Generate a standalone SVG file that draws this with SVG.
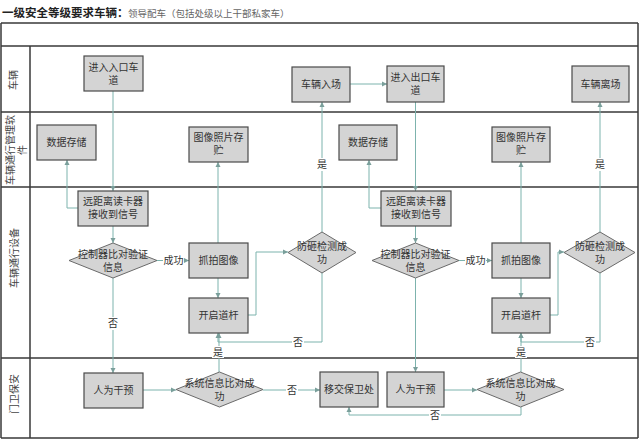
<svg xmlns="http://www.w3.org/2000/svg" width="640" height="440" viewBox="0 0 640 440">
<style>
.lane{stroke:#3a3a3a;stroke-width:1.5;fill:none}
.box{fill:#d4d4d4;stroke:#4a4a4a;stroke-width:1.2}
.dia{fill:#d4d4d4;stroke:#6a6a6a;stroke-width:1}
.t{font-family:"Liberation Serif","Noto Sans CJK SC",serif;font-size:10px;fill:#333;text-anchor:middle}
.lt{font-family:"Liberation Serif","Noto Sans CJK SC",serif;font-size:10px;fill:#444;text-anchor:middle}
.c{stroke:#7db3ad;stroke-width:1;fill:none;marker-end:url(#ah)}
.lb{fill:#fff}
</style>
<defs>
<marker id="ah" markerWidth="6" markerHeight="6" refX="5" refY="3" orient="auto" markerUnits="userSpaceOnUse">
<path d="M0,0.5 L5,3 L0,5.5 Z" fill="#7a9f9b"/>
</marker>
</defs>
<rect width="640" height="440" fill="#fff"/>
<g id="frame">
<text x="2" y="17" font-family="Liberation Serif,'Noto Sans CJK SC',serif" font-size="11.5" font-weight="bold" fill="#222">一级安全等级要求车辆：</text>
<text x="128" y="17" font-family="Liberation Serif,'Noto Sans CJK SC',serif" font-size="9.5" fill="#666">领导配车（包括处级以上干部私家车）</text>
<path class="lane" d="M1,23 H638 M1,46 H638 M1,112 H638 M1,187 H638 M1,358 H638 M1,438 H638 M1,23 V438 M638,23 V438 M30,46 V438"/>
<text class="lt" transform="translate(17,80) rotate(-90)">车辆</text>
<text class="lt" transform="translate(14,150) rotate(-90)">车辆通行管理软</text>
<text class="lt" transform="translate(26,150) rotate(-90)">件</text>
<text class="lt" transform="translate(18,258) rotate(-90)">车辆通行设备</text>
<text class="lt" transform="translate(18,394) rotate(-90)">门卫保安</text>
</g>
<g id="connectors">
<path class="c" d="M113,91 V191"/>
<path class="c" d="M78,208 H67 V160"/>
<path class="c" d="M113,226 V243"/>
<path class="c" d="M157,260.5 H189"/>
<path class="c" d="M113,278 V373"/>
<path class="c" d="M218,243 V162"/>
<path class="c" d="M218,278 V298"/>
<path class="c" d="M248,315 H256 V252 H288"/>
<path class="c" d="M322,232 V102"/>
<path class="c" d="M322,273 V342 H218 V333"/>
<path class="c" d="M219,372 V333"/>
<path class="c" d="M143,390 H176"/>
<path class="c" d="M263,390 H320"/>
<path class="c" d="M350,84 H387"/>
<path class="c" d="M415.5,102 V191"/>
<path class="c" d="M381,208 H369 V160"/>
<path class="c" d="M415.5,226 V243"/>
<path class="c" d="M459,260.5 H492"/>
<path class="c" d="M415.5,278 V372"/>
<path class="c" d="M521,243 V162"/>
<path class="c" d="M521,278 V298"/>
<path class="c" d="M550,315 H558 V252 H564"/>
<path class="c" d="M600,232 V102"/>
<path class="c" d="M600,273 V342 H521 V333"/>
<path class="c" d="M521,372 V333"/>
<path class="c" d="M444,390 H477"/>
<path class="c" d="M521,407 V415 H349 V407"/>
<rect class="lb" x="163" y="254" width="21" height="13"/><text class="t" x="173.5" y="264">成功</text>
<rect class="lb" x="465" y="254" width="21" height="13"/><text class="t" x="475.5" y="264">成功</text>
<rect class="lb" x="107" y="317" width="12" height="13"/><text class="t" x="113" y="327">否</text>
<rect class="lb" x="316" y="158" width="12" height="13"/><text class="t" x="322" y="168">是</text>
<rect class="lb" x="594" y="158" width="12" height="13"/><text class="t" x="600" y="168">是</text>
<rect class="lb" x="292" y="336" width="12" height="13"/><text class="t" x="298" y="346">否</text>
<rect class="lb" x="584" y="336" width="12" height="13"/><text class="t" x="590" y="346">否</text>
<rect class="lb" x="212" y="346" width="12" height="12"/><text class="t" x="218" y="356">是</text>
<rect class="lb" x="515" y="346" width="12" height="12"/><text class="t" x="521" y="356">是</text>
<rect class="lb" x="286" y="384" width="12" height="13"/><text class="t" x="292" y="394">否</text>
<rect class="lb" x="429" y="409" width="12" height="13"/><text class="t" x="435" y="419">否</text>
</g>
<g id="n1"><rect class="box" x="84" y="56" width="59" height="35"/><text class="t" x="113.5" y="71">进入入口车</text><text class="t" x="113.5" y="84">道</text></g>
<g id="n2"><rect class="box" x="37" y="125" width="59" height="35"/><text class="t" x="66.5" y="146">数据存储</text></g>
<g id="n3"><rect class="box" x="189" y="127" width="59" height="35"/><text class="t" x="218.5" y="141">图像照片存</text><text class="t" x="218.5" y="154">贮</text></g>
<g id="n4"><rect class="box" x="292" y="67" width="58" height="35"/><text class="t" x="321" y="88">车辆入场</text></g>
<g id="n5"><rect class="box" x="78" y="191" width="70" height="35"/><text class="t" x="113" y="205">远距离读卡器</text><text class="t" x="113" y="218">接收到信号</text></g>
<g id="n6"><path class="dia" d="M113,243 L157,260.5 L113,278 L69,260.5 Z"/><text class="t" x="113" y="258">控制器比对验证</text><text class="t" x="113" y="271">信息</text></g>
<g id="n7"><rect class="box" x="189" y="243" width="59" height="35"/><text class="t" x="218.5" y="264">抓拍图像</text></g>
<g id="n8"><rect class="box" x="189" y="298" width="59" height="35"/><text class="t" x="218.5" y="319">开启道杆</text></g>
<g id="n9"><path class="dia" d="M322,232 L356,252.5 L322,273 L288,252.5 Z"/><text class="t" x="322" y="250">防砸检测成</text><text class="t" x="322" y="263">功</text></g>
<g id="n10"><rect class="box" x="84" y="373" width="59" height="35"/><text class="t" x="113.5" y="394">人为干预</text></g>
<g id="n11"><path class="dia" d="M219.5,372 L263,389.5 L219.5,407 L176,389.5 Z"/><text class="t" x="219.5" y="387">系统信息比对成</text><text class="t" x="219.5" y="400">功</text></g>
<g id="n12"><rect class="box" x="320" y="372" width="58" height="35"/><text class="t" x="349" y="393">移交保卫处</text></g>
<g id="n13"><rect class="box" x="387" y="66" width="57" height="36"/><text class="t" x="415.5" y="81">进入出口车</text><text class="t" x="415.5" y="94">道</text></g>
<g id="n14"><rect class="box" x="339" y="125" width="58" height="35"/><text class="t" x="368" y="146">数据存储</text></g>
<g id="n15"><rect class="box" x="492" y="127" width="58" height="35"/><text class="t" x="521" y="141">图像照片存</text><text class="t" x="521" y="154">贮</text></g>
<g id="n16"><rect class="box" x="572" y="66" width="57" height="36"/><text class="t" x="600.5" y="88">车辆离场</text></g>
<g id="n17"><rect class="box" x="381" y="191" width="70" height="35"/><text class="t" x="416" y="205">远距离读卡器</text><text class="t" x="416" y="218">接收到信号</text></g>
<g id="n18"><path class="dia" d="M415.5,243 L459,260.5 L415.5,278 L372,260.5 Z"/><text class="t" x="415.5" y="258">控制器比对验证</text><text class="t" x="415.5" y="271">信息</text></g>
<g id="n19"><rect class="box" x="492" y="243" width="58" height="35"/><text class="t" x="521" y="264">抓拍图像</text></g>
<g id="n20"><rect class="box" x="492" y="298" width="58" height="35"/><text class="t" x="521" y="319">开启道杆</text></g>
<g id="n21"><path class="dia" d="M600,232 L635,252.5 L600,273 L564,252.5 Z"/><text class="t" x="600" y="250">防砸检测成</text><text class="t" x="600" y="263">功</text></g>
<g id="n22"><rect class="box" x="387" y="372" width="57" height="35"/><text class="t" x="415.5" y="393">人为干预</text></g>
<g id="n23"><path class="dia" d="M520.5,372 L564,389.5 L520.5,407 L477,389.5 Z"/><text class="t" x="520.5" y="387">系统信息比对成</text><text class="t" x="520.5" y="400">功</text></g>
</svg>
